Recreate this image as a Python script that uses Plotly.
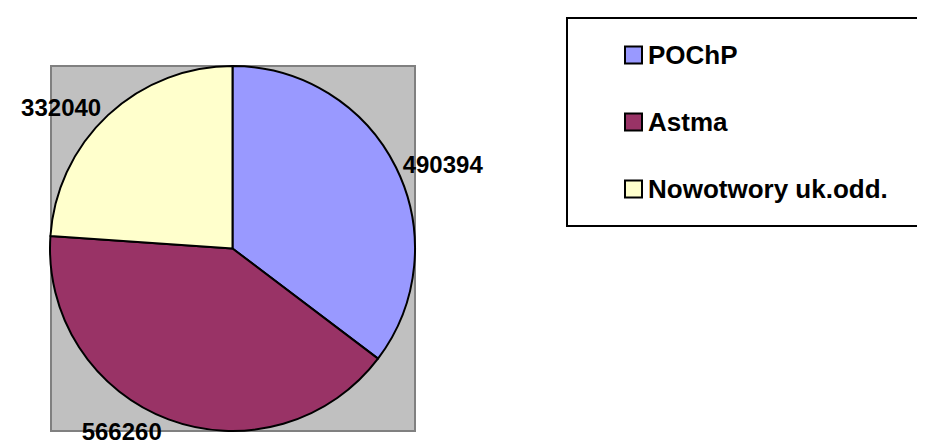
import plotly.graph_objects as go

W, H = 925, 448

labels = ["POChP", "Astma", "Nowotwory uk.odd."]
values = [490394, 566260, 332040]
colors = ["#9999FF", "#993366", "#FFFFCC"]

FONT = "Liberation Sans, Arial, sans-serif"

def px_x(x):
    return x / W

def px_y(y):
    return 1 - y / H

fig = go.Figure()
fig.add_trace(go.Pie(
    labels=labels,
    values=values,
    sort=False,
    direction="clockwise",
    rotation=0,
    marker=dict(colors=colors, line=dict(color="black", width=2)),
    textinfo="value",
    texttemplate="%{value:d}",
    textposition="outside",
    textfont=dict(family=FONT, size=24, color="black", weight="bold"),
    domain=dict(x=[px_x(42), px_x(407)], y=[px_y(423), px_y(58)]),
    showlegend=False,
    hoverinfo="label+value",
))

shapes = [
    # grey plot area
    dict(type="rect", xref="paper", yref="paper", layer="below",
         x0=px_x(43), x1=px_x(407), y0=px_y(423), y1=px_y(58),
         fillcolor="#C0C0C0", line=dict(color="#808080", width=2)),
    # legend frame
    dict(type="rect", xref="paper", yref="paper",
         x0=px_x(559), x1=px_x(935), y0=px_y(218), y1=px_y(10),
         fillcolor="white", line=dict(color="black", width=2), layer="below"),
]
annotations = []
for i, (lab, col) in enumerate(zip(labels, colors)):
    yc = 47 + i * 67
    shapes.append(dict(type="rect", xref="paper", yref="paper",
                       x0=px_x(617), x1=px_x(634), y0=px_y(yc + 8.5), y1=px_y(yc - 8.5),
                       fillcolor=col, line=dict(color="black", width=2)))
    annotations.append(dict(xref="paper", yref="paper", x=px_x(638), y=px_y(yc),
                            xanchor="left", yanchor="middle", text=lab, showarrow=False,
                            font=dict(family=FONT, size=26, color="black", weight="bold")))

fig.update_layout(
    width=W, height=H,
    margin=dict(l=0, r=0, t=0, b=0),
    paper_bgcolor="white",
    plot_bgcolor="white",
    shapes=shapes,
    annotations=annotations,
)

fig.write_html("out.html")
